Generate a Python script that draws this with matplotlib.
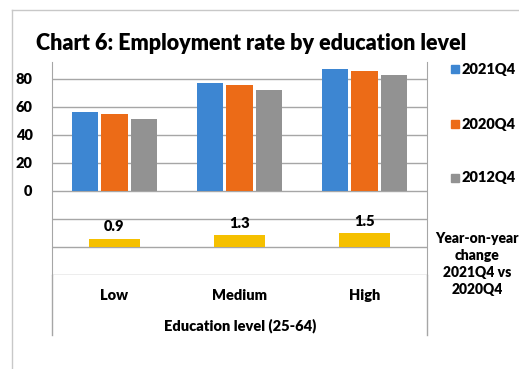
import numpy as np
import matplotlib.pyplot as plt
from matplotlib.lines import Line2D

plt.rcParams['font.family'] = ['Lato', 'DejaVu Sans']
plt.rcParams['font.weight'] = 'bold'

levels = ['Low', 'Medium', 'High']
series = ['2021Q4', '2020Q4', '2012Q4']
rate_2021 = [56.4, 77.1, 87.1]
rate_2020 = [55.0, 75.7, 85.6]
rate_2012 = [51.4, 72.1, 83.0]
yoy_change = [0.9, 1.3, 1.5]

colors = ['#3d86d2', '#ec6b17', '#929292']
yellow = '#f5c000'
grid = '#a6a6a6'
fs = 10.5

fig = plt.figure(figsize=(5.19, 3.69), dpi=100)
W, H = 519, 369

def fx(px):
    return px / W

def fy(py):
    return 1 - py / H

# outer chart border (top and left)
fig.add_artist(Line2D([fx(12), fx(12)], [fy(10), 0], color='#c8c8c8', lw=1))
fig.add_artist(Line2D([fx(12), 1], [fy(10), fy(10)], color='#c8c8c8', lw=1))

ax = fig.add_axes([fx(52), fy(275), fx(427) - fx(52), fy(62) - fy(275)])
x = np.arange(len(levels))
w = 0.21
off = 0.235
for i, (vals, c) in enumerate(zip([rate_2021, rate_2020, rate_2012], colors)):
    ax.bar(x + (i - 1) * off, vals, width=w, color=c, zorder=3, label=series[i])

ax.set_xlim(-0.5, 2.5)
ax.set_ylim(-60, 92)
ax.set_yticks([0, 20, 40, 60, 80])
ax.set_yticklabels(['0', '20', '40', '60', '80'], fontsize=fs, fontweight='heavy')
for yv in [80, 60, 40, 20, 0, -20, -40, -60]:
    ax.axhline(yv, color=grid, lw=1, zorder=1)
ax.tick_params(axis='y', length=0, pad=14)
ax.set_xticks([])
for s in ['top', 'bottom']:
    ax.spines[s].set_visible(False)
for s in ['left', 'right']:
    ax.spines[s].set_color(grid)

# extend vertical axis lines down through the category area
for px in [52, 427]:
    fig.add_artist(Line2D([fx(px), fx(px)], [fy(275), fy(335)], color=grid, lw=1))

# secondary scale for the year-on-year change bars
ax2 = ax.twinx()
ax2.set_ylim(-3.12, 20.55)
ax2.bar(x, yoy_change, width=0.41, color=yellow, zorder=3)
for xi, v in zip(x, yoy_change):
    ax2.text(xi, v + 0.6, f'{v:.1f}', ha='center', va='bottom', fontsize=fs, fontweight='heavy')
ax2.axis('off')

for xi, lab in zip(x, levels):
    fig.text(fx(52) + (xi + 0.5) / 3 * (fx(427) - fx(52)), fy(296), lab,
             ha='center', va='center', fontsize=fs, fontweight='heavy')
fig.text(fx(240), fy(326), 'Education level (25-64)', ha='center', va='center',
         fontsize=fs, fontweight='heavy')

fig.text(fx(36), fy(43), 'Chart 6: Employment rate by education level', ha='left', va='center',
         fontsize=15.5, fontweight='heavy')

# legend
for lab, c, py in zip(series, colors, [69, 124, 178]):
    fig.patches.append(plt.Rectangle((fx(451), fy(py) - 0.011), 0.015, 0.021,
                                     transform=fig.transFigure, color=c))
    fig.text(fx(462), fy(py), lab, ha='left', va='center', fontsize=fs, fontweight='heavy')
fig.text(fx(477), fy(264), 'Year-on-year\nchange\n2021Q4 vs\n2020Q4', ha='center', va='center',
         fontsize=10, fontweight='heavy', linespacing=1.35)

fig.savefig('out.png', dpi=100)
